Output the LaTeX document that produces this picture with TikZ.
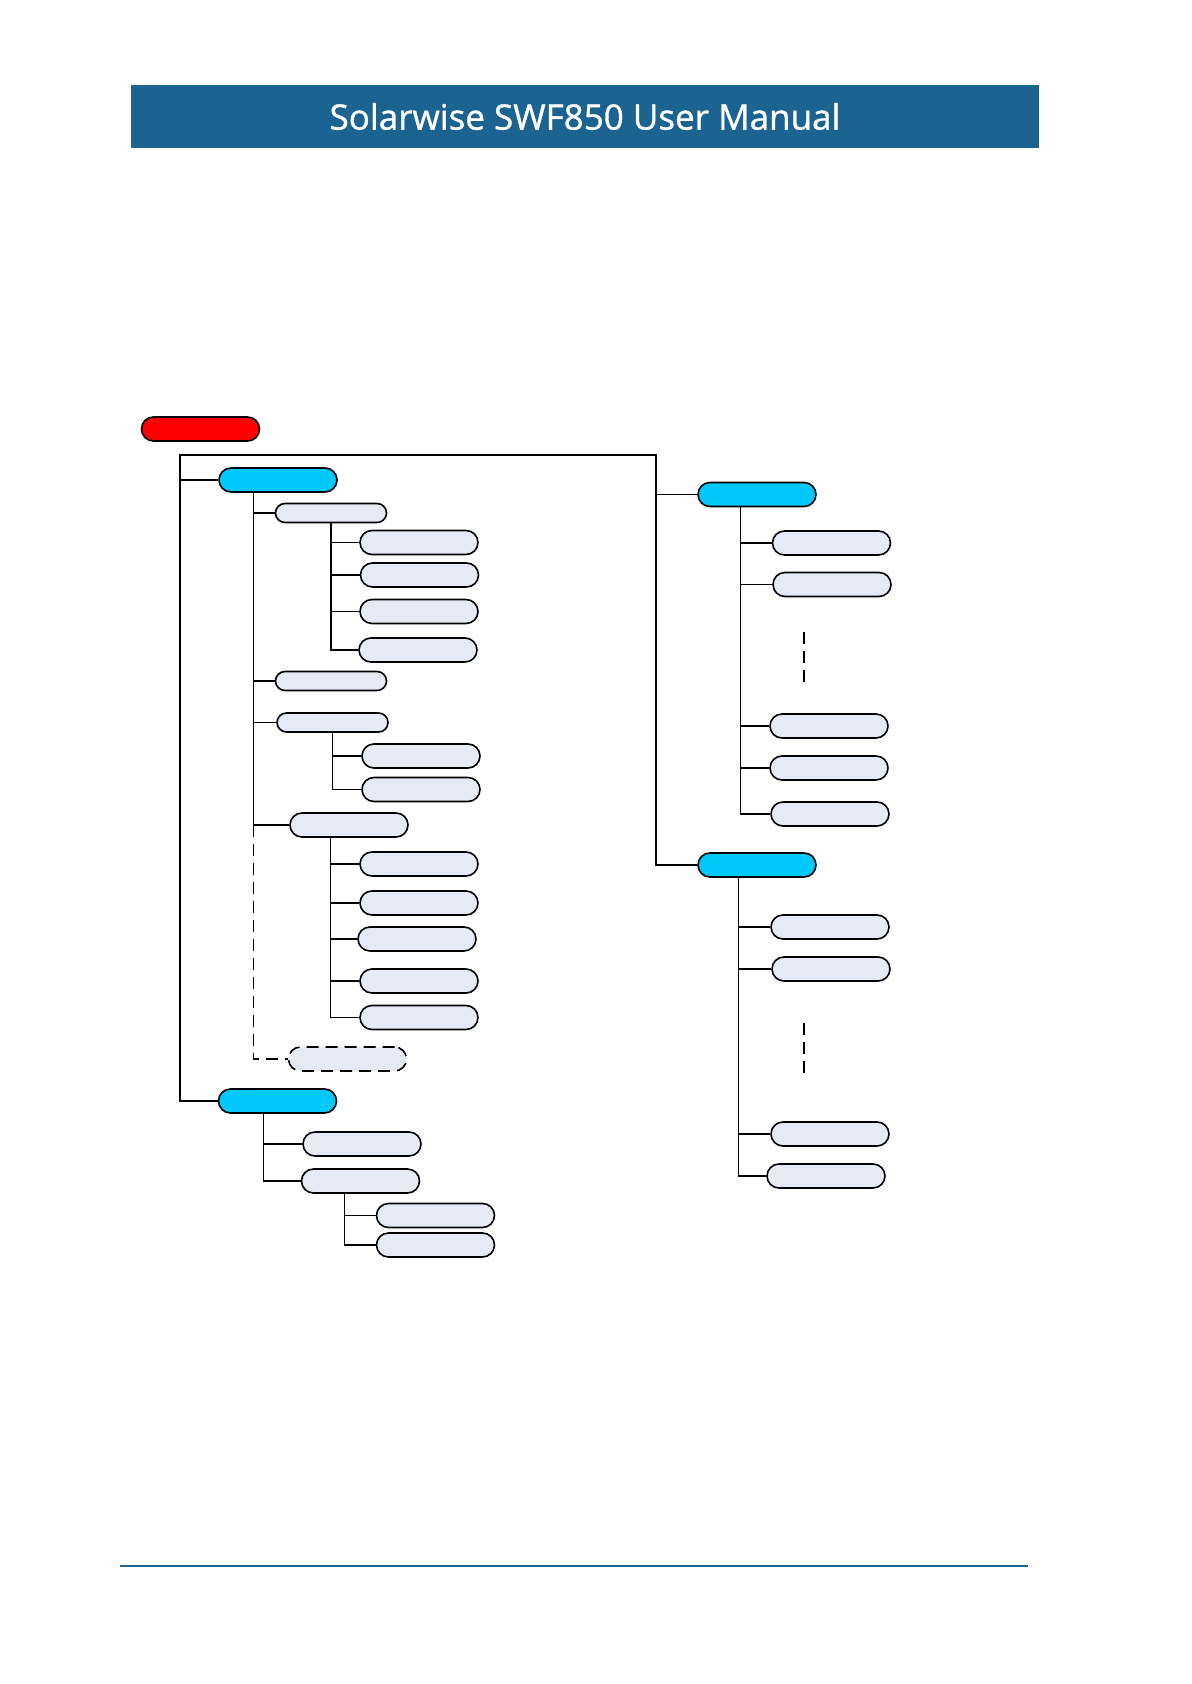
\documentclass[tikz,border=0pt]{standalone}
\usepackage{fontspec}
\newfontfamily\headfont[FakeBold=1]{Open Sans}
\usepackage{tikz}
\usetikzlibrary{calc}

\definecolor{bandblue}{RGB}{27,100,146}
\definecolor{menublue}{RGB}{0,200,250}
\definecolor{rootred}{RGB}{255,0,0}
\definecolor{itemgrey}{RGB}{230,234,244}

\begin{document}
\begin{tikzpicture}[
  x=0.5pt, y=-0.5pt, line width=0.6pt,
  band/.style={rectangle, fill=bandblue, text=white, minimum width=454pt, minimum height=31.5pt, font=\headfont\fontsize{17.5}{20}\selectfont},
  pill/.style={rectangle, draw, rounded corners=6pt, line width=0.8pt, minimum width=59pt, minimum height=12pt, inner sep=0pt},
  root/.style={pill, fill=rootred},
  menu/.style={pill, fill=menublue},
  item/.style={pill, fill=itemgrey},
  subitem/.style={item, minimum width=55.5pt, minimum height=9.5pt, rounded corners=4.75pt},
  gap/.style={dash pattern=on 6pt off 3.5pt}
]
\useasboundingbox (0,0) rectangle (1191,1684);

% page header and footer rule
\node[band] (head) at (585,116.5) {Solarwise SWF850 User Manual};
\coordinate (footL) at (120,1566);
\coordinate (footR) at (1028,1566);
\draw[bandblue, line width=1pt] (footL) -- (footR);

% main menu tree
\node[root] (root) at (200.5,429) {};
\coordinate (TL) at (180,455);
\coordinate (TR) at (656,455);

\node[menu] (mA) at (278,480) {};
\node[menu] (mB) at (277.5,1101) {};
\node[menu] (mC) at (757,494.5) {};
\node[menu] (mD) at (757,865) {};

\draw (mB.west) -| (TL) -- (TR) |- (mD.west);
\draw (mA.west) -- (mA.west -| TL);
\draw (mC.west) -- (mC.west -| TR);

% first menu
\node[subitem] (a1) at (331,513) {};
\node[subitem] (a2) at (331,681) {};
\node[subitem] (a3) at (332.5,722.5) {};
\node[item] (a4) at (349,825) {};
\node[item, gap] (a5) at (347.5,1059) {};

\coordinate (vA) at ($(mA.south west)+(35,0)$);
\foreach \n in {a1,a2,a3,a4}
  \draw (vA) |- (\n.west);
\draw[gap] (vA |- a4.west) |- (a5.west);

\node[item] (a1s1) at (419,542.5) {};
\node[item] (a1s2) at (419.5,575) {};
\node[item] (a1s3) at (419,611.5) {};
\node[item] (a1s4) at (418,650) {};
\foreach \n in {a1s1,a1s2,a1s3,a1s4}
  \draw (a1.south) |- (\n.west);

\node[item] (a3s1) at (421,756) {};
\node[item] (a3s2) at (421,789.5) {};
\foreach \n in {a3s1,a3s2}
  \draw (a3.south) |- (\n.west);

\node[item] (a4s1) at (419,864) {};
\node[item] (a4s2) at (419,903) {};
\node[item] (a4s3) at (417,939) {};
\node[item] (a4s4) at (419,981) {};
\node[item] (a4s5) at (419,1017.5) {};
\coordinate (vA4) at ($(a4.south west)+(41,0)$);
\foreach \n in {a4s1,a4s2,a4s3,a4s4,a4s5}
  \draw (vA4) |- (\n.west);

% second menu
\node[item] (b1) at (362,1144) {};
\node[item] (b2) at (360.5,1181) {};
\coordinate (vB) at ($(mB.south west)+(46,0)$);
\foreach \n in {b1,b2}
  \draw (vB) |- (\n.west);

\node[item] (b2s1) at (435.5,1215.5) {};
\node[item] (b2s2) at (435.5,1245) {};
\coordinate (vB2) at ($(b2.south west)+(44,0)$);
\foreach \n in {b2s1,b2s2}
  \draw (vB2) |- (\n.west);

% third menu
\node[item] (c1) at (831.5,543) {};
\node[item] (c2) at (832,584.5) {};
\node[item] (c3) at (829,726) {};
\node[item] (c4) at (829,768) {};
\node[item] (c5) at (830,814) {};
\coordinate (vC) at ($(mC.south west)+(43,0)$);
\foreach \n in {c1,c2,c3,c4,c5}
  \draw (vC) |- (\n.west);
\coordinate (cdotsT) at (804,632);
\coordinate (cdotsB) at (804,689);
\draw[gap] (cdotsT) -- (cdotsB);

% fourth menu
\node[item] (d1) at (830,927) {};
\node[item] (d2) at (831,969) {};
\node[item] (d3) at (830,1134) {};
\node[item] (d4) at (826,1176) {};
\coordinate (vD) at ($(mD.south west)+(41,0)$);
\foreach \n in {d1,d2,d3,d4}
  \draw (vD) |- (\n.west);
\coordinate (ddotsT) at (804,1023);
\coordinate (ddotsB) at (804,1079);
\draw[gap] (ddotsT) -- (ddotsB);
\end{tikzpicture}
\end{document}
